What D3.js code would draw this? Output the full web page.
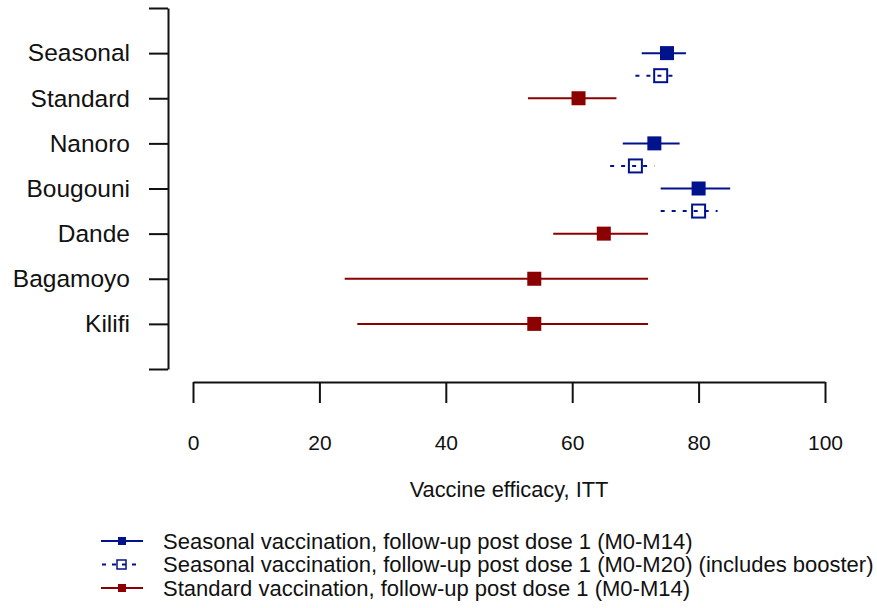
<!DOCTYPE html>
<html>
<head>
<meta charset="utf-8">
<script src="https://cdn.jsdelivr.net/npm/d3@7"></script>
<style>
  body { margin: 0; background: #fff; }
  svg text { font-family: "Liberation Sans", Arial, sans-serif; fill: #111; }
</style>
</head>
<body>
<div class="chart"></div>
<script>
// row labels (top tick and bottom tick have no label)
const rowLabels = ['', 'Seasonal', 'Standard', 'Nanoro', 'Bougouni', 'Dande', 'Bagamoyo', 'Kilifi', ''];
const xTicks = [0, 20, 40, 60, 80, 100];

// estimates with confidence limits
const seasonalM14 = [
  { site: 'Seasonal', est: 75, lo: 71, hi: 78 },
  { site: 'Nanoro', est: 73, lo: 68, hi: 77 },
  { site: 'Bougouni', est: 80, lo: 74, hi: 85 }
];
const seasonalM20 = [
  { site: 'Seasonal', est: 74, lo: 70, hi: 76 },
  { site: 'Nanoro', est: 70, lo: 66, hi: 73 },
  { site: 'Bougouni', est: 80, lo: 74, hi: 83 }
];
const standardM14 = [
  { site: 'Standard', est: 61, lo: 53, hi: 67 },
  { site: 'Dande', est: 65, lo: 57, hi: 72 },
  { site: 'Bagamoyo', est: 54, lo: 24, hi: 72 },
  { site: 'Kilifi', est: 54, lo: 26, hi: 72 }
];
const legendLabels = [
  'Seasonal vaccination, follow-up post dose 1 (M0-M14)',
  'Seasonal vaccination, follow-up post dose 1 (M0-M20) (includes booster)',
  'Standard vaccination, follow-up post dose 1 (M0-M14)'
];

const width = 877, height = 608;
const blue = '#00128c', red = '#8b0000';

const svg = d3.select('.chart').append('svg')
  .attr('width', width).attr('height', height);

const x = d3.scaleLinear().domain([0, 100]).range([193, 825]);
const y = d3.scaleLinear().domain([0, rowLabels.length - 1]).range([8, 369]);
const rowIndex = site => rowLabels.indexOf(site);

// y axis
const yAxis = svg.append('g')
  .attr('transform', 'translate(168,0)')
  .call(d3.axisLeft(y)
    .tickValues(d3.range(rowLabels.length))
    .tickFormat(i => rowLabels[i])
    .tickSize(19).tickSizeOuter(0).tickPadding(19));
yAxis.selectAll('path, line').attr('stroke', '#111').attr('stroke-width', 2);
yAxis.selectAll('text').style('font-size', '24.5px').attr('fill', '#111');

// x axis
const xAxis = svg.append('g')
  .attr('transform', 'translate(0,382)')
  .call(d3.axisBottom(x).tickValues(xTicks).tickSize(21).tickSizeOuter(0).tickPadding(32));
xAxis.selectAll('path, line').attr('stroke', '#111').attr('stroke-width', 2);
xAxis.selectAll('text').style('font-size', '21px').attr('fill', '#111');

svg.append('text')
  .attr('x', x(50)).attr('y', 497)
  .attr('text-anchor', 'middle')
  .style('font-size', '21.8px')
  .text('Vaccine efficacy, ITT');

// draw one series of intervals
function drawSeries(data, colour, offset, dashed, open) {
  const g = svg.append('g');
  g.selectAll('line').data(data).enter().append('line')
    .attr('x1', d => x(d.lo)).attr('x2', d => x(d.hi))
    .attr('y1', d => y(rowIndex(d.site) + offset))
    .attr('y2', d => y(rowIndex(d.site) + offset))
    .attr('stroke', colour).attr('stroke-width', 2)
    .attr('stroke-dasharray', dashed ? '4,7' : null);
  const s = open ? 13 : 14;
  g.selectAll('rect').data(data).enter().append('rect')
    .attr('x', d => x(d.est) - s / 2)
    .attr('y', d => y(rowIndex(d.site) + offset) - s / 2)
    .attr('width', s).attr('height', s)
    .attr('fill', open ? '#fff' : colour)
    .attr('fill-opacity', open ? 0 : 1)
    .attr('stroke', open ? colour : 'none')
    .attr('stroke-width', 2);
}

drawSeries(seasonalM14, blue, 0, false, false);
drawSeries(seasonalM20, blue, 0.5, true, true);
drawSeries(standardM14, red, 0, false, false);

// legend
const legendStyles = [
  { colour: blue, dashed: false, open: false },
  { colour: blue, dashed: true, open: true },
  { colour: red, dashed: false, open: false }
];
const legend = svg.append('g').attr('transform', 'translate(0,541)');
legendLabels.forEach((label, i) => {
  const st = legendStyles[i];
  const row = legend.append('g').attr('transform', 'translate(0,' + (i * 23.5) + ')');
  row.append('line')
    .attr('x1', st.dashed ? 102 : 101).attr('x2', st.dashed ? 140 : 143)
    .attr('y1', 0).attr('y2', 0)
    .attr('stroke', st.colour).attr('stroke-width', 2)
    .attr('stroke-dasharray', st.dashed ? '4,6' : null);
  row.append('rect')
    .attr('x', st.open ? 117 : 118).attr('y', st.open ? -4.5 : -4)
    .attr('width', st.open ? 9 : 8).attr('height', st.open ? 9 : 8)
    .attr('fill', st.open ? '#fff' : st.colour)
    .attr('fill-opacity', st.open ? 0 : 1)
    .attr('stroke', st.open ? st.colour : 'none')
    .attr('stroke-width', 1.5);
  row.append('text')
    .attr('x', 163).attr('y', 0).attr('dy', '0.35em')
    .style('font-size', '22px')
    .text(label);
});
</script>
</body>
</html>
